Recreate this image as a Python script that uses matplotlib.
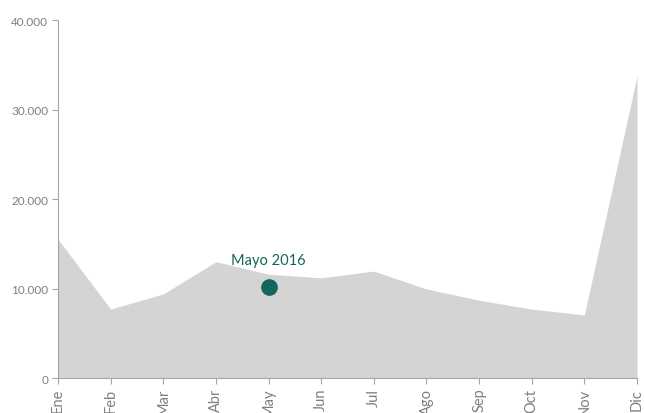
import numpy as np
from matplotlib import pyplot as plt
from matplotlib.ticker import FuncFormatter

plt.rcParams['font.family'] = ['Lato', 'DejaVu Sans']

months = ['Ene', 'Feb', 'Mar', 'Abr', 'May', 'Jun', 'Jul', 'Ago', 'Sep', 'Oct', 'Nov', 'Dic']
values = [15500, 7700, 9400, 13000, 11600, 11200, 11950, 9950, 8700, 7700, 7050, 33750]
point_month = 4
point_value = 10200
point_label = 'Mayo 2016'

fig = plt.figure(figsize=(6.45, 4.14), dpi=100)
ax = fig.add_axes([0.09, 0.0845, 0.8976, 0.8645])

x = np.arange(len(months))
ax.fill_between(x, values, 0, color='#d4d4d4', linewidth=0)

ax.plot(point_month, point_value, 'o', color='#14665a', markersize=11)
ax.annotate(point_label, (point_month, point_value), xytext=(0, 14),
            textcoords='offset points', ha='center', va='bottom',
            color='#14665a', fontsize=10.5)

ax.set_xlim(0, len(months) - 1)
ax.set_ylim(0, 40000)
ax.set_xticks(x)
ax.set_xticklabels(months, rotation=90, fontsize=10.5)
ax.set_yticks([0, 10000, 20000, 30000, 40000])
ax.yaxis.set_major_formatter(FuncFormatter(lambda v, p: f'{int(v):,}'.replace(',', '.')))

for side in ['top', 'right']:
    ax.spines[side].set_visible(False)
for side in ['left', 'bottom']:
    ax.spines[side].set_color('#a6a6a6')
    ax.spines[side].set_linewidth(0.8)
ax.tick_params(colors='#a6a6a6', labelcolor='#7f7f7f', length=4, width=0.8, pad=3)
ax.tick_params(axis='y', labelsize=8.5)

fig.savefig('out.png', dpi=100)
